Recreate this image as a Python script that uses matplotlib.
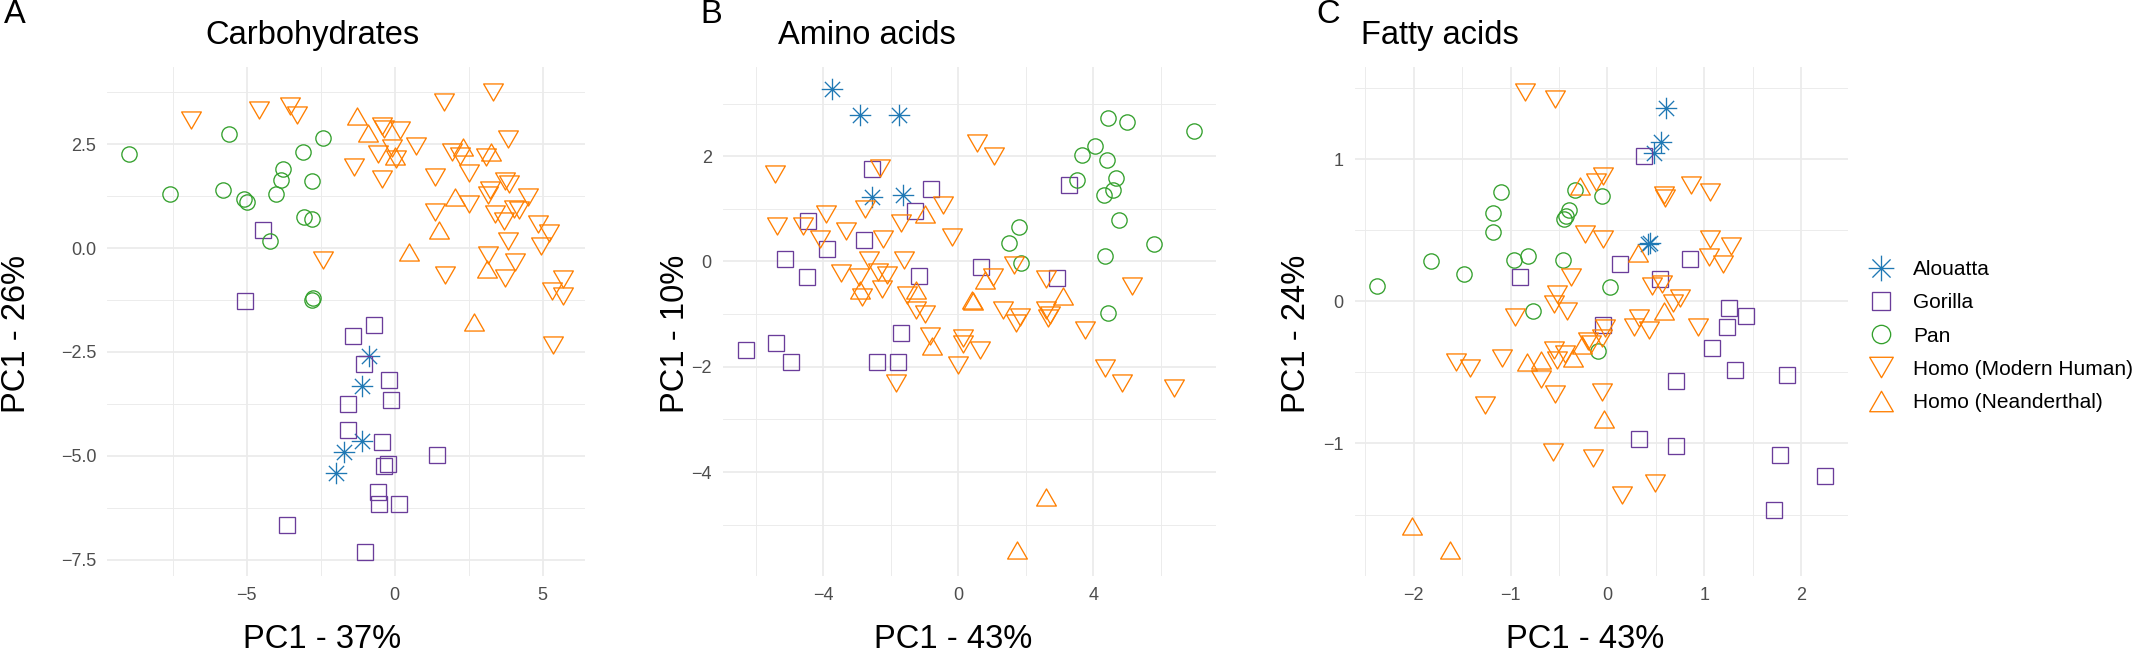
import matplotlib
matplotlib.use("Agg")
import matplotlib.pyplot as plt
from matplotlib.path import Path
from matplotlib.lines import Line2D
import numpy as np

plt.rcParams['font.family'] = ['Liberation Sans', 'DejaVu Sans']

# ---------------- data ----------------
groups = ["Alouatta", "Gorilla", "Pan", "Homo (Modern Human)", "Homo (Neanderthal)"]
colors = ["#1F78B4", "#6A3D9A", "#33A02C", "#FF7F00", "#FF7F00"]

# Panel A: Carbohydrates
carb_alouatta_x = [-0.88, -1.09, -1.12, -1.71, -1.97]
carb_alouatta_y = [-2.59, -3.31, -4.63, -4.91, -5.41]
carb_gorilla_x = [-4.44, -5.07, -1.42, -0.70, -1.05, -0.19, -0.12, -1.57, -1.57, -0.42, 1.44, -0.23, -0.35, -0.55, -0.52, 0.13, -3.63, -1.01]
carb_gorilla_y = [0.44, -1.27, -2.11, -1.86, -2.78, -3.17, -3.65, -3.74, -4.38, -4.67, -4.97, -5.20, -5.25, -5.87, -6.15, -6.15, -6.67, -7.32]
carb_pan_x = [-8.98, -7.60, -5.60, -5.81, -5.08, -4.99, -4.20, -4.01, -3.83, -3.77, -3.09, -2.81, -3.07, -2.81, -2.42, -2.77, -2.78]
carb_pan_y = [2.25, 1.30, 2.75, 1.39, 1.17, 1.10, 0.18, 1.31, 1.64, 1.90, 2.32, 1.60, 0.74, 0.70, 2.64, -1.20, -1.26]
carb_modern_x = [-6.88, -4.58, -3.53, -3.30, -1.38, -2.41,
                 -0.43, -0.35, 0.17, -0.56, -0.10, 0.05, -0.43, 0.72,
                 1.68, 3.31, 3.82, 1.94, 2.20, 3.09, 1.37, 2.50, 3.73, 3.87, 3.22, 3.14, 4.49, 2.52,
                 1.37, 3.37, 3.70, 4.04, 4.21, 4.83, 5.22, 4.94, 3.82, 3.16, 4.05, 3.73, 1.71, 5.68,
                 5.30, 5.68, 5.36]
carb_modern_y = [3.09, 3.32, 3.41, 3.21, 1.96, -0.28,
                 2.93, 2.85, 2.84, 2.27, 2.40, 2.15, 1.65, 2.46,
                 3.50, 3.74, 2.61, 2.31, 2.22, 2.20, 1.71, 1.81, 1.61, 1.55, 1.39, 1.27, 1.22, 1.05,
                 0.86, 0.81, 0.65, 0.94, 0.91, 0.57, 0.35, 0.06, 0.17, -0.17, -0.34, -0.71, -0.65, -0.75,
                 -1.03, -1.15, -2.34]
carb_neand_x = [-1.29, -0.90, 0.00, 0.48, 2.30, 3.25, 2.02, 1.48, 3.10, 2.67]
carb_neand_y = [3.17, 2.76, 2.22, -0.10, 2.42, 2.30, 1.22, 0.43, -0.50, -1.78]

# Panel B: Amino acids
amino_alouatta_x = [-3.74, -2.90, -1.77, -2.56, -1.65]
amino_alouatta_y = [3.27, 2.79, 2.79, 1.23, 1.26]
amino_gorilla_x = [-2.56, -0.82, 3.27, -1.27, -4.46, -2.79, -3.89, -5.12, -4.49, 0.66, -1.17, 2.93, -1.71, -5.40, -6.30, -4.96, -2.40, -1.80]
amino_gorilla_y = [1.75, 1.37, 1.46, 0.95, 0.76, 0.41, 0.23, 0.05, -0.30, -0.11, -0.27, -0.32, -1.36, -1.54, -1.68, -1.91, -1.91, -1.91]
amino_pan_x = [4.42, 5.00, 6.97, 4.04, 3.65, 4.41, 4.66, 3.52, 4.57, 4.31, 4.76, 1.81, 1.50, 5.78, 1.85, 4.34, 4.42]
amino_pan_y = [2.72, 2.64, 2.48, 2.19, 2.03, 1.92, 1.59, 1.55, 1.35, 1.26, 0.79, 0.66, 0.36, 0.34, -0.03, 0.10, -0.97]
amino_modern_x = [-5.44, -5.37, -4.60, -3.91, -4.11, -3.32, -2.76, -2.31, -2.22, -1.70, -0.46, -0.18, 0.54, 1.07,
                  -2.64, -1.61, -3.47, -2.93, -2.37, -2.10, -2.27, -2.86, -1.51, -1.26, -0.99, 1.04, 1.66, 2.61,
                  1.31, 1.71, 1.82, 2.59, 2.72, -0.84, 0.13, 0.13, 0.63, -0.02, -1.85, 3.76, 5.15, 4.34,
                  4.85, 6.40, 2.65]
amino_modern_y = [1.67, 0.67, 0.67, 0.91, 0.43, 0.58, 1.00, 1.77, 0.42, 0.74, 1.07, 0.46, 2.25, 2.00,
                  0.02, 0.03, -0.22, -0.29, -0.20, -0.25, -0.53, -0.68, -0.63, -0.93, -1.00, -0.30, -0.06, -0.33,
                  -0.93, -1.16, -1.06, -0.92, -1.02, -1.41, -1.45, -1.56, -1.68, -1.96, -2.30, -1.31, -0.46, -2.03,
                  -2.30, -2.40, -1.08]
amino_neand_x = [-0.99, -2.91, -1.26, 0.40, 0.44, 0.79, -0.79, 3.11, 2.59, 1.75]
amino_neand_y = [0.90, -0.55, -0.55, -0.74, -0.76, -0.35, -1.60, -0.66, -4.47, -5.48]

# Panel C: Fatty acids
fatty_alouatta_x = [0.61, 0.55, 0.48, 0.44, 0.42]
fatty_alouatta_y = [1.36, 1.12, 1.04, 0.41, 0.40]
fatty_gorilla_x = [0.38, 0.13, 0.85, -0.90, 0.54, -0.04, 1.26, 1.43, 1.24, 1.08, 1.32, 1.86, 0.71, 0.33, 0.71, 1.78, 2.25, 1.72]
fatty_gorilla_y = [1.02, 0.26, 0.30, 0.17, 0.16, -0.17, -0.05, -0.10, -0.18, -0.33, -0.48, -0.52, -0.56, -0.97, -1.02, -1.08, -1.23, -1.47]
fatty_pan_x = [-2.38, -1.82, -1.48, -1.10, -1.18, -1.18, -0.96, -0.82, -0.46, -0.33, -0.06, -0.40, -0.43, -0.45, 0.03, -0.77, -0.10]
fatty_pan_y = [0.11, 0.28, 0.19, 0.77, 0.62, 0.49, 0.29, 0.32, 0.29, 0.78, 0.74, 0.64, 0.60, 0.58, 0.10, -0.07, -0.35]
fatty_modern_x = [-0.85, -0.54, -0.12, -0.04, 0.58, 0.60, 0.86, 1.06, -0.23, -0.04, 1.06, 1.28, 1.05, 1.19,
                  -0.38, -0.52, -0.55, -0.42, -0.95, 0.46, 0.56, 0.75, 0.68, 0.94, 0.28, 0.43, 0.33, -0.02,
                  -1.56, -1.42, -1.09, -1.26, -0.69, -0.55, -0.52, -0.44, -0.54, -0.20, -0.17, -0.06, -0.56,
                  -0.15, 0.49, 0.15, -0.06]
fatty_modern_y = [1.47, 1.42, 0.84, 0.88, 0.75, 0.73, 0.82, 0.77, 0.47, 0.44, 0.44, 0.39, 0.31, 0.26,
                  0.17, 0.05, -0.02, -0.07, -0.11, 0.11, 0.12, 0.02, -0.01, -0.18, -0.18, -0.20, -0.12, -0.19,
                  -0.43, -0.47, -0.40, -0.73, -0.55, -0.34, -0.41, -0.37, -0.65, -0.28, -0.30, -0.64, -1.06,
                  -1.10, -1.28, -1.36, -0.26]
fatty_neand_x = [-0.28, 0.32, 0.58, -0.83, -0.69, -0.35, -0.26, -0.03, -2.02, -1.62]
fatty_neand_y = [0.81, 0.34, -0.07, -0.43, -0.41, -0.40, -0.31, -0.83, -1.58, -1.75]

titles = ["Carbohydrates", "Amino acids", "Fatty acids"]
panel_tags = ["A", "B", "C"]
xlabels = ["PC1 - 37%", "PC1 - 43%", "PC1 - 43%"]
ylabels = ["PC1 - 26%", "PC1 - 10%", "PC1 - 24%"]

carb_xticks = [-5, 0, 5]
carb_xticklabels = ["\u22125", "0", "5"]
carb_yticks = [-7.5, -5.0, -2.5, 0.0, 2.5]
carb_yticklabels = ["\u22127.5", "\u22125.0", "\u22122.5", "0.0", "2.5"]
amino_xticks = [-4, 0, 4]
amino_xticklabels = ["\u22124", "0", "4"]
amino_yticks = [-4, -2, 0, 2]
amino_yticklabels = ["\u22124", "\u22122", "0", "2"]
fatty_xticks = [-2, -1, 0, 1, 2]
fatty_xticklabels = ["\u22122", "\u22121", "0", "1", "2"]
fatty_yticks = [-1, 0, 1]
fatty_yticklabels = ["\u22121", "0", "1"]

# ---------------- styling ----------------
W, H, DPI = 2141, 657, 100
fig = plt.figure(figsize=(W / DPI, H / DPI), dpi=DPI)
fig.patch.set_facecolor("white")

s3 = np.sqrt(3) / 2
tri_up = Path([(-1, -s3), (1, -s3), (0, s3), (-1, -s3)],
              [Path.MOVETO, Path.LINETO, Path.LINETO, Path.CLOSEPOLY])
tri_down = Path([(-1, s3), (1, s3), (0, -s3), (-1, s3)],
                [Path.MOVETO, Path.LINETO, Path.LINETO, Path.CLOSEPOLY])
dd = np.sqrt(0.5)
asterisk = Path([(0, -1), (0, 1), (-1, 0), (1, 0), (-dd, -dd), (dd, dd), (-dd, dd), (dd, -dd)],
                [Path.MOVETO, Path.LINETO] * 4)
markers = [asterisk, "s", "o", tri_down, tri_up]
msizes = [15.5, 11.2, 11.0, 14.2, 14.2]
leg_msizes = [18.5, 13.2, 13.2, 17.0, 17.0]
MEW = 0.95


def px_axes(l, t, r, b):
    return fig.add_axes([l / W, 1 - b / H, (r - l) / W, (b - t) / H])


panels = [
    dict(box=(107.3, 66.7, 584.5, 575.7), xlim=(-9.71, 6.41), ylim=(-7.88, 4.36),
         xt=carb_xticks, xtl=carb_xticklabels, yt=carb_yticks, ytl=carb_yticklabels,
         xminor=[-7.5, -2.5, 2.5], yminor=[-6.25, -3.75, -1.25, 1.25, 3.75],
         series=[(carb_alouatta_x, carb_alouatta_y), (carb_gorilla_x, carb_gorilla_y),
                 (carb_pan_x, carb_pan_y), (carb_modern_x, carb_modern_y),
                 (carb_neand_x, carb_neand_y)],
         title_x=312, tag_x=4, ylab_x=25, xlab_x=322),
    dict(box=(722.9, 66.7, 1215.7, 575.7), xlim=(-6.97, 7.62), ylim=(-5.97, 3.70),
         xt=amino_xticks, xtl=amino_xticklabels, yt=amino_yticks, ytl=amino_yticklabels,
         xminor=[-6, -2, 2, 6], yminor=[-5, -3, -1, 1, 3],
         series=[(amino_alouatta_x, amino_alouatta_y), (amino_gorilla_x, amino_gorilla_y),
                 (amino_pan_x, amino_pan_y), (amino_modern_x, amino_modern_y),
                 (amino_neand_x, amino_neand_y)],
         title_x=867, tag_x=700, ylab_x=684, xlab_x=953),
    dict(box=(1354.6, 66.7, 1847.5, 575.7), xlim=(-2.61, 2.48), ylim=(-1.93, 1.65),
         xt=fatty_xticks, xtl=fatty_xticklabels, yt=fatty_yticks, ytl=fatty_yticklabels,
         xminor=[-2.5, -1.5, -0.5, 0.5, 1.5], yminor=[-1.5, -0.5, 0.5, 1.5],
         series=[(fatty_alouatta_x, fatty_alouatta_y), (fatty_gorilla_x, fatty_gorilla_y),
                 (fatty_pan_x, fatty_pan_y), (fatty_modern_x, fatty_modern_y),
                 (fatty_neand_x, fatty_neand_y)],
         title_x=1440, tag_x=1316, ylab_x=1305, xlab_x=1585),
]

GRID = "#EBEBEB"
TICKC = "#4D4D4D"
for i, p in enumerate(panels):
    ax = px_axes(*p["box"])
    ax.set_xlim(*p["xlim"])
    ax.set_ylim(*p["ylim"])
    for sp in ax.spines.values():
        sp.set_visible(False)
    ax.set_xticks(p["xt"])
    ax.set_xticklabels(p["xtl"])
    ax.set_yticks(p["yt"])
    ax.set_yticklabels(p["ytl"])
    ax.set_xticks(p["xminor"], minor=True)
    ax.set_yticks(p["yminor"], minor=True)
    ax.tick_params(which="both", length=0)
    ax.tick_params(axis="both", which="major", labelsize=13, labelcolor=TICKC, pad=8)
    ax.grid(which="major", color=GRID, lw=1.25)
    ax.grid(which="minor", color=GRID, lw=0.65)
    ax.set_axisbelow(True)
    for (xs, ys), c, m, ms in zip(p["series"], colors, markers, msizes):
        ax.plot(xs, ys, ls="none", marker=m, ms=ms, mfc="none", mec=c, mew=MEW)

    fig.text(p["title_x"] / W, 1 - 44 / H, titles[i], ha="center", va="baseline", fontsize=23.5)
    fig.text(p["tag_x"] / W, 1 - 23.3 / H, panel_tags[i], ha="left", va="baseline", fontsize=23.5)
    fig.text(p["xlab_x"] / W, 1 - 648 / H, xlabels[i], ha="center", va="baseline", fontsize=23.5)
    fig.text(p["ylab_x"] / W, 1 - 334 / H, ylabels[i], ha="center", va="baseline",
             rotation=90, rotation_mode="anchor", fontsize=23.5)

handles = [Line2D([], [], ls="none", marker=m, ms=ms, mfc="none", mec=c, mew=MEW)
           for m, ms, c in zip(markers, leg_msizes, colors)]
fig.legend(handles, groups, loc="center left", bbox_to_anchor=(1864 / W, 1 - 336 / H),
           frameon=False, fontsize=15, borderpad=0, borderaxespad=0,
           handlelength=1.6, handletextpad=0.75, labelspacing=0.68)

fig.savefig("out.png", dpi=DPI, facecolor="white")
